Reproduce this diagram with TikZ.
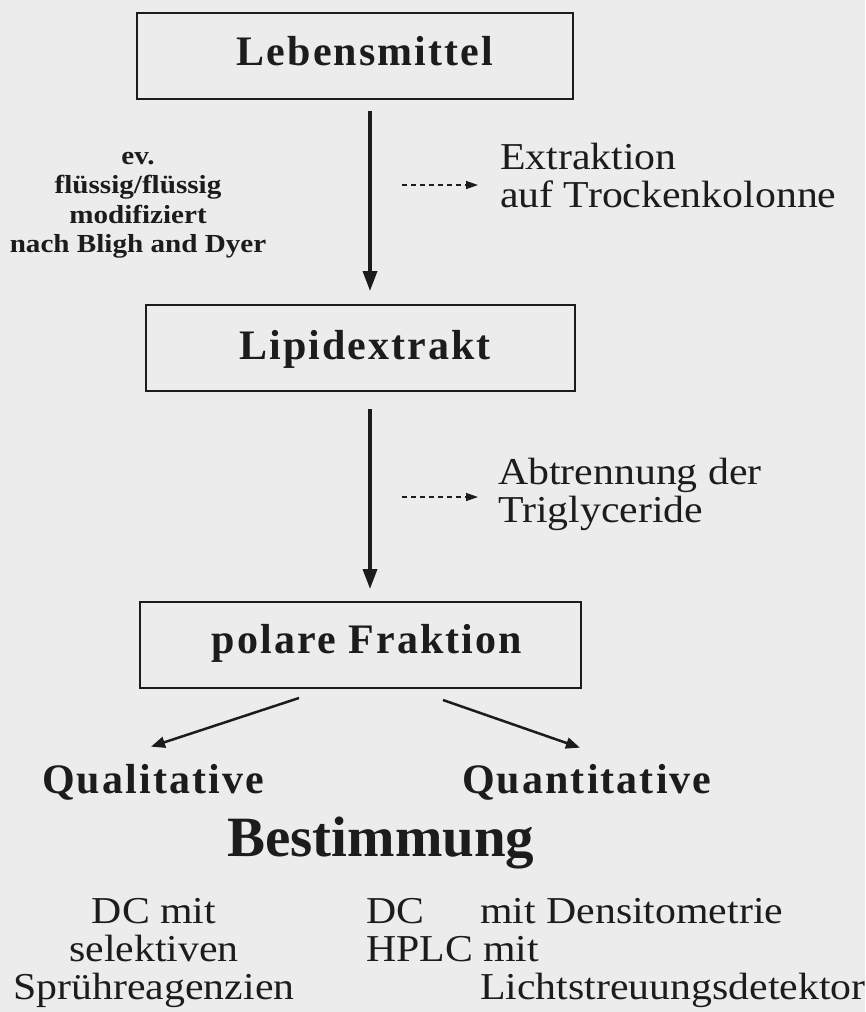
\documentclass[tikz,border=0pt]{standalone}
\usepackage{fontspec}
\setmainfont{Liberation Serif}
\newfontfamily\titlefont{Liberation Serif}[LetterSpace=5]
\newfontfamily\leftfont{Liberation Serif}[FakeStretch=1.12]
\newfontfamily\plainfont{Liberation Serif}[FakeStretch=1.1]
\usetikzlibrary{arrows.meta}
\definecolor{paper}{RGB}{236,236,236}
\definecolor{ink}{RGB}{28,28,28}
\tikzset{
  box/.style={draw=ink, line width=2pt, inner sep=0pt, minimum height=86pt,
    font=\titlefont\bfseries\fontsize{42}{42}\selectfont, text=ink},
  bigtitle/.style={inner sep=0pt, text=ink, font=\titlefont\bfseries\fontsize{42}{42}\selectfont},
  plaintxt/.style={inner sep=0pt, text=ink, font=\plainfont\fontsize{38}{38}\selectfont},
  lefttxt/.style={inner sep=0pt, text=ink, align=center, font=\leftfont\bfseries\fontsize{26}{29.5}\selectfont},
  mainarrow/.style={draw=ink, line width=3.5pt, -{Triangle[width=14pt,length=20pt]}},
  diagarrow/.style={draw=ink, line width=2.5pt, -{Triangle[width=11pt,length=14pt]}},
  dasharrow/.style={draw=ink, line width=1.3pt, dash pattern=on 5pt off 4pt, -{Triangle[width=8pt,length=12pt]}}
}
\begin{document}
\begin{tikzpicture}[x=1pt,y=-1pt]
\fill[paper] (0,0) rectangle (865,1012);
\useasboundingbox (0,0) rectangle (865,1012);

% boxes
\node[box, minimum width=436pt, text height=28pt, text depth=10pt] (b1) at (355,56) {\hspace*{20pt}Lebensmittel};
\node[box, minimum width=429pt, text height=27pt, text depth=5pt] (b2) at (360.5,348) {\hspace*{9pt}Lipidextrakt};
\node[box, minimum width=441pt, text height=27pt, text depth=10pt] (b3) at (360.5,645) {\hspace*{13pt}polare Fraktion};

% main vertical arrows
\coordinate (ax) at (370,0);
\draw[mainarrow, shorten <=11pt, shorten >=13pt] (b1.south -| ax) -- (b2.north -| ax);
\draw[mainarrow, shorten <=17pt, shorten >=12pt] (b2.south -| ax) -- (b3.north -| ax);

% left annotation
\node[lefttxt, anchor=north] (note) at (138,152) {ev.\\flüssig/flüssig\\modifiziert\\nach Bligh and Dyer};

% side texts
\node[plaintxt, anchor=north west, align=left] (ext) at (500,143) {Extraktion\\auf Trockenkolonne};
\node[plaintxt, anchor=north west, align=left] (abt) at (498,458) {Abtrennung der\\Triglyceride};

\coordinate (d1) at (402,185);
\coordinate (d2) at (402,497);
\draw[dasharrow, shorten >=22pt] (d1) -- (d1 -| ext.west);
\draw[dasharrow, shorten >=20pt] (d2) -- (d2 -| abt.west);

% result nodes
\node[bigtitle, anchor=base west] (qual) at (42,793) {Qualitative};
\node[bigtitle, anchor=base west] (quant) at (462,793) {Quantitative};
\draw[diagarrow] ([shift={(-61.5,9)}]b3.south) -- ([shift={(-2,-17)}]qual.north);
\draw[diagarrow] ([shift={(82.5,11)}]b3.south) -- ([shift={(-7,-16)}]quant.north);

\node[inner sep=0pt, text=ink, anchor=base west, font=\bfseries\fontsize{57}{57}\selectfont] (best) at (227,856) {Bestimmung};

% methods
\node[plaintxt, anchor=north, align=center] (m1) at (154,898) {DC mit\\selektiven\\Sprühreagenzien};
\node[plaintxt, anchor=north west, align=left] (m2) at (366,898) {\makebox[114pt][l]{DC}mit Densitometrie\\HPLC mit\\\hspace*{114pt}Lichtstreuungsdetektor};
\end{tikzpicture}
\end{document}
